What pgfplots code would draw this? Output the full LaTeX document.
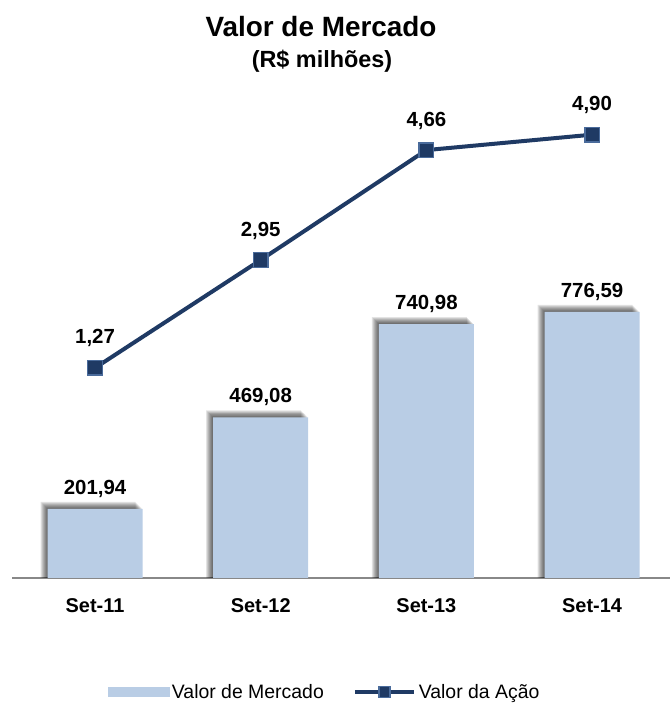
\documentclass[border=0pt]{standalone}
\usepackage{pgfplots}
\pgfplotsset{compat=1.18}
\usepackage{pgfplotstable}
\usepackage{fontspec}
\setmainfont{Liberation Sans}
\definecolor{barblue}{HTML}{B9CDE5}
\definecolor{navy}{HTML}{1F3A64}
\definecolor{markedge}{HTML}{4A6B9B}
\definecolor{axgray}{HTML}{888888}

\pgfplotstableread{
x v
0 201.94
1 469.08
2 740.98
3 776.59
}\mercado
\pgfplotstableread{
x v
0 1.27
1 2.95
2 4.66
3 4.90
}\acao

\pgfplotsset{shadowbar/.style={ybar, bar width=95bp, bar shift=-#1bp, fill=black, opacity=0.11, draw=none}}

\begin{document}
\begin{tikzpicture}[x=1bp,y=1bp]
\useasboundingbox (0,0) rectangle (670,708);
\node[font=\bfseries\fontsize{28}{30}\selectfont] at (321,681) {Valor de Mercado};
\node[font=\bfseries\fontsize{23.5}{26}\selectfont] at (322,647) {(R\$ milhões)};
\begin{axis}[
  at={(12.2bp,130bp)}, anchor=south west,
  scale only axis, width=662.7bp, height=514bp,
  xmin=-0.5, xmax=3.5, ymin=0, ymax=1500,
  axis x line*=bottom, axis y line=none,
  x axis line style={axgray, line width=1.5bp},
  xtick={0,1,2,3},
  xticklabels={Set-11,Set-12,Set-13,Set-14},
  major x tick style={draw=none},
  extra x ticks={-0.5,0.5,1.5,2.5,3.5},
  extra x tick labels={},
  extra x tick style={major tick length=6bp, tick align=outside, tick style={axgray, line width=1.5bp}},
  xticklabel style={font=\bfseries\fontsize{20}{22}\selectfont, yshift=-17bp},
  /pgf/number format/assume math mode=true,
  clip=false,
]
\addplot[shadowbar=7] table[x=x, y expr=\thisrow{v}+20.4] {\mercado};
\addplot[shadowbar=6] table[x=x, y expr=\thisrow{v}+17.5] {\mercado};
\addplot[shadowbar=5] table[x=x, y expr=\thisrow{v}+14.6] {\mercado};
\addplot[shadowbar=4] table[x=x, y expr=\thisrow{v}+11.7] {\mercado};
\addplot[shadowbar=3] table[x=x, y expr=\thisrow{v}+8.8] {\mercado};
\addplot[shadowbar=2] table[x=x, y expr=\thisrow{v}+5.8] {\mercado};
\addplot[shadowbar=1] table[x=x, y expr=\thisrow{v}+2.9] {\mercado};
\addplot[ybar, bar width=95bp, bar shift=0bp, fill=barblue, draw=none,
  nodes near coords,
  nodes near coords style={font=\bfseries\fontsize{20.5}{22}\selectfont, text=black, anchor=south, inner sep=0pt, yshift=11bp,
    /pgf/number format/.cd, fixed, fixed zerofill, precision=2, use comma, 1000 sep={}},
  ] table[x=x, y=v] {\mercado};
\end{axis}
\begin{axis}[
  at={(12.2bp,130bp)}, anchor=south west,
  scale only axis, width=662.7bp, height=514bp,
  xmin=-0.5, xmax=3.5, ymin=-2, ymax=6,
  hide axis, clip=false,
  /pgf/number format/assume math mode=true,
  legend columns=2,
  legend style={at={(0.472,-0.2218)}, anchor=center, draw=none, fill=none,
    font=\fontsize{19.5}{21}\selectfont, inner sep=0pt,
    nodes={inner xsep=3bp, inner ysep=0pt},
    /tikz/every even column/.append style={column sep=26bp}},
]
\addlegendimage{legend image code/.code={\fill[barblue] (0bp,-4.5bp) rectangle (61bp,4.5bp);}}
\addlegendentry{Valor de Mercado}
\addlegendimage{legend image code/.code={\draw[navy, line width=4bp] (0bp,0bp) -- (59bp,0bp);
  \draw[fill=navy, draw=markedge, line width=1.5bp] (24bp,-5.5bp) rectangle (35bp,5.5bp);}}
\addlegendentry{Valor da Ação}
\addplot[navy, line width=4bp, mark=square*,
  mark options={fill=navy, draw=markedge, line width=1.5bp, solid}, mark size=7.3bp,
  nodes near coords,
  nodes near coords style={font=\bfseries\fontsize{20.5}{22}\selectfont, text=black, anchor=south, inner sep=0pt, yshift=20bp,
    /pgf/number format/.cd, fixed, fixed zerofill, precision=2, use comma},
  ] table[x=x, y=v] {\acao};
\end{axis}
\end{tikzpicture}
\end{document}
